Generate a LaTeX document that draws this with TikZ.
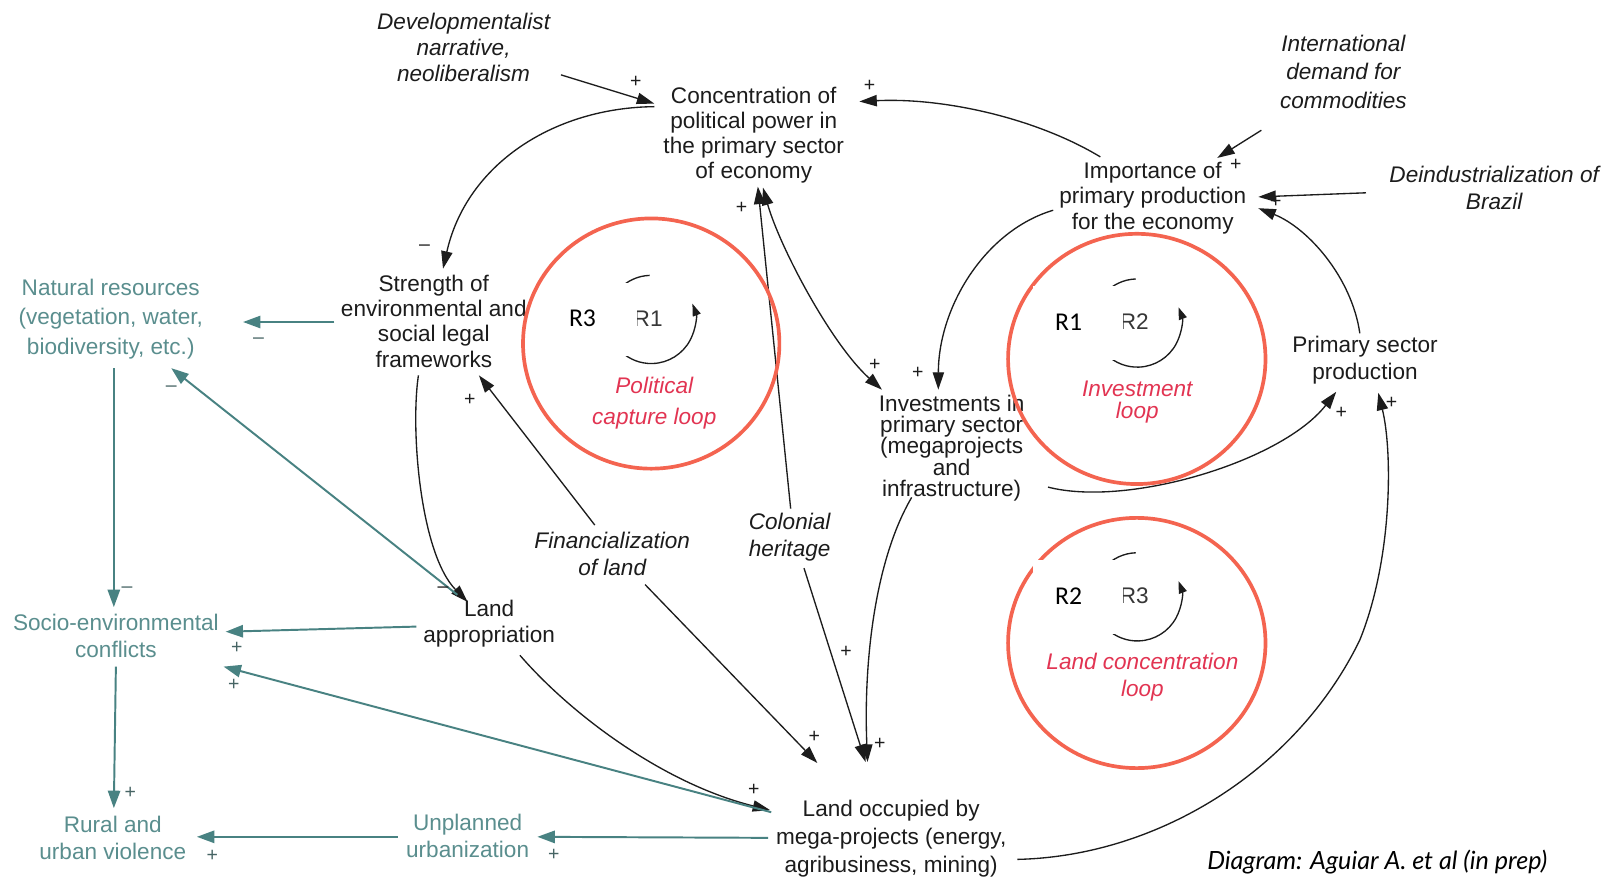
\documentclass[tikz,border=0pt]{standalone}
\usepackage{fontspec}
\setmainfont{Liberation Sans}
\newfontfamily\calibfont{Carlito}
\newfontfamily\latofont{Lato}
\usetikzlibrary{arrows.meta,calc}
\definecolor{ink}{RGB}{28,28,28}
\definecolor{tealtxt}{RGB}{90,142,142}
\definecolor{teall}{RGB}{72,130,130}
\definecolor{tealsg}{RGB}{70,100,100}
\definecolor{ringred}{RGB}{244,100,80}
\definecolor{looptxt}{RGB}{226,52,82}
\definecolor{rgreyc}{RGB}{55,55,55}
\tikzset{
  var/.style={align=center,text=ink,font=\fontsize{22}{#1}\selectfont},
  var/.default=25,
  exo/.style={align=center,text=ink,font=\fontsize{22}{#1}\selectfont\itshape},
  exo/.default=26,
  tvar/.style={align=center,text=tealtxt,font=\fontsize{22}{#1}\selectfont},
  tvar/.default=26,
  arr/.style={draw=ink,line width=1.3pt,-{Triangle[length=17pt,width=11pt]}},
  biarr/.style={draw=ink,line width=1.3pt,{Triangle[length=17pt,width=11pt]}-{Triangle[length=17pt,width=11pt]}},
  tarr/.style={draw=teall,line width=1.9pt,-{Triangle[length=17pt,width=12pt]}},
  sgn/.style={text=ink,font=\fontsize{19}{19}\selectfont},
  tsgn/.style={text=tealsg,font=\fontsize{19}{19}\selectfont},
  ring/.style={draw=ringred,line width=3.6pt},
  loopline/.style={draw=ink,line width=1.3pt,-{Triangle[length=12pt,width=8pt]}},
  rgrey/.style={text=rgreyc,font=\fontsize{22}{22}\selectfont},
  rblack/.style={text=black,font=\calibfont\fontsize{25}{25}\selectfont},
  looplab/.style={align=center,text=looptxt,font=\fontsize{22}{#1}\selectfont\itshape},
}
% loop symbol: #1 id, #2 cx, #3 cy, #4 grey label, #5 black label
\newcommand\rloop[5]{%
  \draw[loopline] ([shift={(-92:43)}]#2,#3) arc[start angle=-92,end angle=-381,radius=43];
  \node[rgrey] (#1g) at ($(#2,#3)+(-3,-1)$) {#4};
  \fill[white] ($(#2,#3)+(-102,-36)$) rectangle ($(#2,#3)+(-14,36)$);
  \node[rblack] (#1b) at ($(#2,#3)+(-67,-1)$) {#5};
}
\begin{document}
\begin{tikzpicture}[x=1pt,y=-1pt]
\fill[white] (0,0) rectangle (1568,859);
\useasboundingbox (0,0) rectangle (1568,859);

% ---------- variables ----------
\node[exo=25.5] (dev) at (452,46) {Developmentalist\\narrative,\\neoliberalism};
\node[var=24.3] (conc) at (735,132) {Concentration of\\political power in\\the primary sector\\of economy};
\node[exo=27.5] (intl) at (1310,70) {International\\demand for\\commodities};
\node[var=25] (imp) at (1124,193) {Importance of\\primary production\\for the economy};
\node[exo=26] (deind) at (1457,183) {Deindustrialization of\\Brazil};
\node[var=24.7] (str) at (423,313) {Strength of\\environmental and\\social legal\\frameworks};
\node[tvar=29] (nat) at (108,311) {Natural resources\\(vegetation, water,\\biodiversity, etc.)};
\node[var=26] (psp) at (1331,351) {Primary sector\\production};
\node[var=20.8] (inv) at (928,437) {Investments in\\primary sector\\(megaprojects\\and\\infrastructure)};
\node[exo=26] (fin) at (597,540) {Financialization\\of land};
\node[exo=26] (col) at (770,524) {Colonial\\heritage};
\node[var=26] (lap) at (477,608) {Land\\appropriation};
\node[tvar=26] (soc) at (113,620) {Socio-environmental\\conflicts};
\node[tvar=26] (rur) at (110,817) {Rural and\\urban violence};
\node[tvar=26] (unp) at (456,815) {Unplanned\\urbanization};
\node[var=27.5] (loc) at (869,818) {Land occupied by\\mega-projects (energy,\\agribusiness, mining)};
\node[text=black,font=\latofont\itshape\fontsize{24.5}{24.5}\selectfont] (credit) at (1343,841) {Diagram: Aguiar A. et al (in prep)};

% ---------- black connectors ----------
\draw[arr] ($(dev)+(95,27)$) -- ($(conc)+(-97,-31)$);
\draw[arr] ($(conc)+(-97,-28)$) .. controls (540,105) and (455,160) .. ($(str)+(9,-51)$);
\draw[arr] ($(imp)+(-51,-40)$) .. controls (1010,115) and (920,95) .. ($(conc)+(103,-33)$);
\draw[arr] ($(intl)+(-80,57)$) -- ($(imp)+(63,-39)$);
\draw[arr] ($(deind)+(-125,5)$) -- ($(imp)+(103,-1)$);
\draw[arr] ($(psp)+(-5,-26)$) .. controls (1318,270) and (1275,222) .. ($(imp)+(103,10)$);
\draw[arr] ($(imp)+(-97,12)$) .. controls (960,225) and (915,300) .. ($(inv)+(-13,-57)$);
\draw[biarr] ($(conc)+(9,51)$) .. controls (760,240) and (810,335) .. ($(inv)+(-68,-57)$);
\draw[arr] ($(col)+(1,-28)$) -- ($(conc)+(4,50)$);
\draw[arr] ($(col)+(14,30)$) -- ($(loc)+(-25,-75)$);
\draw[arr] ($(fin)+(32,30)$) -- ($(loc)+(-72,-74)$);
\draw[arr] ($(fin)+(-17,-28)$) -- ($(str)+(44,53)$);
\draw[arr] ($(str)+(-15,53)$) .. controls (400,420) and (410,540) .. ($(lap)+(-21,-21)$);
\draw[arr] ($(inv)+(-39,48)$) .. controls (852,548) and (842,650) .. ($(loc)+(-23,-75)$);
\draw[arr] ($(lap)+(30,31)$) .. controls (560,700) and (650,765) .. ($(loc)+(-118,-28)$);
\draw[arr] ($(inv)+(94,38)$) .. controls (1100,495) and (1250,450) .. ($(psp)+(-28,31)$);
\draw[arr] ($(loc)+(123,20)$) .. controls (1130,835) and (1265,750) .. (1326,624)
   .. controls (1358,545) and (1358,440) .. ($(psp)+(13,32)$);

% ---------- teal connectors ----------
\draw[tarr] ($(str)+(-97,1)$) -- ($(nat)+(129,3)$);
\draw[tarr] ($(lap)+(-31,-28)$) -- ($(nat)+(59,48)$);
\draw[tarr] ($(nat)+(3,48)$) -- ($(soc)+(-2,-28)$);
\draw[tarr] ($(lap)+(-71,3)$) -- ($(soc)+(107,-4)$);
\draw[tarr] ($(loc)+(-117,-26)$) -- ($(soc)+(105,30)$);
\draw[tarr] ($(soc)+(0,30)$) -- ($(rur)+(1,-29)$);
\draw[tarr] ($(unp)+(-68,1)$) -- ($(rur)+(82,-1)$);
\draw[tarr] ($(loc)+(-120,-1)$) -- ($(unp)+(68,1)$);

% ---------- polarity signs ----------
\node[sgn] (s1) at (620,80) {+};
\node[sgn] (s2) at (848,84) {+};
\node[sgn] (s3) at (1205,161) {+};
\node[sgn] (s4) at (1244,197) {+};
\node[sgn] (s5) at (414,242) {–};
\node[sgn] (s6) at (723,203) {+};
\node[sgn] (s7) at (853,356) {+};
\node[sgn] (s8) at (895,364) {+};
\node[sgn] (s9) at (458,390) {+};
\node[sgn] (s10) at (432,575) {–};
\node[sgn] (s11) at (1308,403) {+};
\node[sgn] (s12) at (1357,393) {+};
\node[sgn] (s13) at (825,636) {+};
\node[sgn] (s14) at (794,719) {+};
\node[sgn] (s15) at (858,725) {+};
\node[sgn] (s16) at (735,770) {+};
\node[tsgn] (t1) at (252,332) {–};
\node[tsgn] (t2) at (167,379) {–};
\node[tsgn] (t3) at (124,575) {–};
\node[tsgn] (t4) at (231,632) {+};
\node[tsgn] (t5) at (228,668) {+};
\node[tsgn] (t6) at (127,773) {+};
\node[tsgn] (t7) at (207,835) {+};
\node[tsgn] (t8) at (540,834) {+};

% ---------- loop rings ----------
\draw[ring] (635,335) ellipse [x radius=125, y radius=122];
\draw[ring] (1108.5,350) ellipse [x radius=125.5, y radius=122];
\draw[ring] (1108.5,627) ellipse [x radius=125.5, y radius=122];
\rloop{lA}{635}{311.5}{R1}{R3}
\rloop{lB}{1109}{315}{R2}{R1}
\rloop{lC}{1109}{582}{R3}{R2}
\node[looplab=30] (capl) at (638,393) {Political\\capture loop};
\node[looplab=21] (invl) at (1109,392) {Investment\\loop};
\node[looplab=26] (lcl) at (1114,660) {Land concentration\\loop};
\end{tikzpicture}
\end{document}
